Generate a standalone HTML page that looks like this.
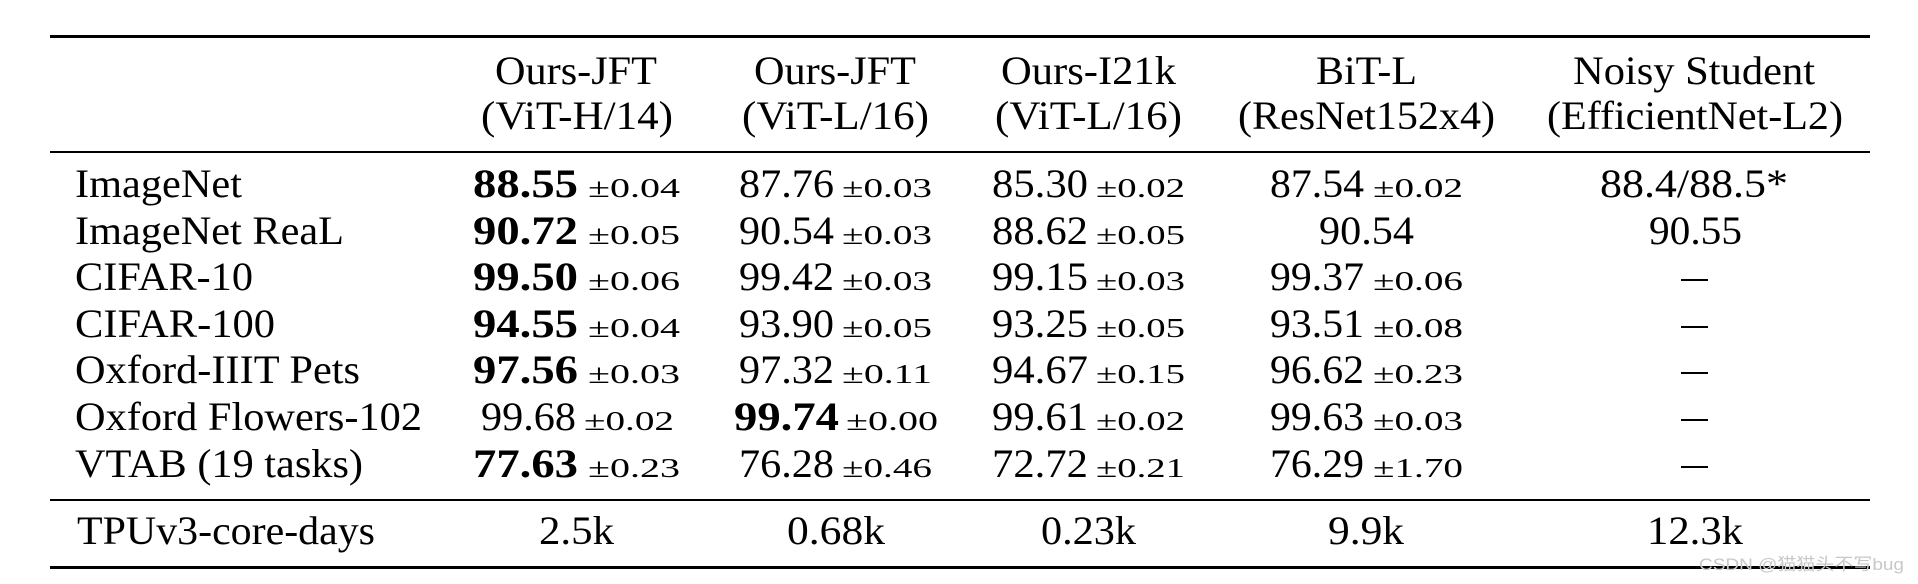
<!DOCTYPE html>
<html><head><meta charset="utf-8"><style>
html,body{margin:0;padding:0;background:#fff;}
svg{display:block;}
text{font-family:"Liberation Serif",serif;fill:#000;}
.b{font-size:40px;}
.h{font-size:40px;}
.s{font-size:27px;}
.bb{font-size:40px;font-weight:bold;}
.w{font-family:"Liberation Sans","Noto Sans CJK SC",sans-serif;font-size:17px;fill:#c8c8c8;}
</style></head><body>
<svg width="1918" height="584" viewBox="0 0 1918 584" xmlns="http://www.w3.org/2000/svg">
<rect width="1918" height="584" fill="#fff"/>
<rect x="50" y="35" width="1820" height="3" fill="#000"/>
<rect x="50" y="151" width="1820" height="2" fill="#000"/>
<rect x="50" y="499" width="1820" height="2" fill="#000"/>
<rect x="50" y="566" width="1820" height="3" fill="#000"/>

<text class="h" x="495" y="84" textLength="162" lengthAdjust="spacingAndGlyphs">Ours-JFT</text>
<text class="h" x="481" y="129" textLength="192" lengthAdjust="spacingAndGlyphs">(ViT-H/14)</text>
<text class="h" x="754" y="84" textLength="162" lengthAdjust="spacingAndGlyphs">Ours-JFT</text>
<text class="h" x="742" y="129" textLength="187" lengthAdjust="spacingAndGlyphs">(ViT-L/16)</text>
<text class="h" x="1001" y="84" textLength="175" lengthAdjust="spacingAndGlyphs">Ours-I21k</text>
<text class="h" x="995" y="129" textLength="187" lengthAdjust="spacingAndGlyphs">(ViT-L/16)</text>
<text class="h" x="1316" y="84" textLength="101" lengthAdjust="spacingAndGlyphs">BiT-L</text>
<text class="h" x="1238" y="129" textLength="257" lengthAdjust="spacingAndGlyphs">(ResNet152x4)</text>
<text class="h" x="1573" y="84" textLength="242" lengthAdjust="spacingAndGlyphs">Noisy Student</text>
<text class="h" x="1547" y="129" textLength="296" lengthAdjust="spacingAndGlyphs">(EfficientNet-L2)</text>

<text class="b" x="75" y="197" textLength="167" lengthAdjust="spacingAndGlyphs">ImageNet</text>
<text class="b" x="75" y="244" textLength="269" lengthAdjust="spacingAndGlyphs">ImageNet ReaL</text>
<text class="b" x="75" y="290" textLength="178" lengthAdjust="spacingAndGlyphs">CIFAR-10</text>
<text class="b" x="75" y="337" textLength="200" lengthAdjust="spacingAndGlyphs">CIFAR-100</text>
<text class="b" x="75" y="383" textLength="285" lengthAdjust="spacingAndGlyphs">Oxford-IIIT Pets</text>
<text class="b" x="75" y="430" textLength="347" lengthAdjust="spacingAndGlyphs">Oxford Flowers-102</text>
<text class="b" x="75" y="477" textLength="288" lengthAdjust="spacingAndGlyphs">VTAB (19 tasks)</text>
<text class="b" x="77" y="544" textLength="298" lengthAdjust="spacingAndGlyphs">TPUv3-core-days</text>

<g>
<text class="bb" x="473" y="197" textLength="105" lengthAdjust="spacingAndGlyphs">88.55</text><text class="s" x="588" y="197" textLength="92" lengthAdjust="spacingAndGlyphs">±0.04</text>
<text class="bb" x="473" y="244" textLength="105" lengthAdjust="spacingAndGlyphs">90.72</text><text class="s" x="588" y="244" textLength="92" lengthAdjust="spacingAndGlyphs">±0.05</text>
<text class="bb" x="473" y="290" textLength="105" lengthAdjust="spacingAndGlyphs">99.50</text><text class="s" x="588" y="290" textLength="92" lengthAdjust="spacingAndGlyphs">±0.06</text>
<text class="bb" x="473" y="337" textLength="105" lengthAdjust="spacingAndGlyphs">94.55</text><text class="s" x="588" y="337" textLength="92" lengthAdjust="spacingAndGlyphs">±0.04</text>
<text class="bb" x="473" y="383" textLength="105" lengthAdjust="spacingAndGlyphs">97.56</text><text class="s" x="588" y="383" textLength="92" lengthAdjust="spacingAndGlyphs">±0.03</text>
<text class="b" x="481" y="430" textLength="95" lengthAdjust="spacingAndGlyphs">99.68</text><text class="s" x="584" y="430" textLength="90" lengthAdjust="spacingAndGlyphs">±0.02</text>
<text class="bb" x="473" y="477" textLength="105" lengthAdjust="spacingAndGlyphs">77.63</text><text class="s" x="588" y="477" textLength="92" lengthAdjust="spacingAndGlyphs">±0.23</text>
<text class="b" x="539" y="544" textLength="75" lengthAdjust="spacingAndGlyphs">2.5k</text>
</g>
<g>
<text class="b" x="739" y="197" textLength="95" lengthAdjust="spacingAndGlyphs">87.76</text><text class="s" x="842" y="197" textLength="90" lengthAdjust="spacingAndGlyphs">±0.03</text>
<text class="b" x="739" y="244" textLength="95" lengthAdjust="spacingAndGlyphs">90.54</text><text class="s" x="842" y="244" textLength="90" lengthAdjust="spacingAndGlyphs">±0.03</text>
<text class="b" x="739" y="290" textLength="95" lengthAdjust="spacingAndGlyphs">99.42</text><text class="s" x="842" y="290" textLength="90" lengthAdjust="spacingAndGlyphs">±0.03</text>
<text class="b" x="739" y="337" textLength="95" lengthAdjust="spacingAndGlyphs">93.90</text><text class="s" x="842" y="337" textLength="90" lengthAdjust="spacingAndGlyphs">±0.05</text>
<text class="b" x="739" y="383" textLength="95" lengthAdjust="spacingAndGlyphs">97.32</text><text class="s" x="842" y="383" textLength="90" lengthAdjust="spacingAndGlyphs">±0.11</text>
<text class="bb" x="734" y="430" textLength="105" lengthAdjust="spacingAndGlyphs">99.74</text><text class="s" x="846" y="430" textLength="92" lengthAdjust="spacingAndGlyphs">±0.00</text>
<text class="b" x="739" y="477" textLength="95" lengthAdjust="spacingAndGlyphs">76.28</text><text class="s" x="842" y="477" textLength="90" lengthAdjust="spacingAndGlyphs">±0.46</text>
<text class="b" x="787" y="544" textLength="98" lengthAdjust="spacingAndGlyphs">0.68k</text>
</g>
<g>
<text class="b" x="992" y="197" textLength="96" lengthAdjust="spacingAndGlyphs">85.30</text><text class="s" x="1096" y="197" textLength="89" lengthAdjust="spacingAndGlyphs">±0.02</text>
<text class="b" x="992" y="244" textLength="96" lengthAdjust="spacingAndGlyphs">88.62</text><text class="s" x="1096" y="244" textLength="89" lengthAdjust="spacingAndGlyphs">±0.05</text>
<text class="b" x="992" y="290" textLength="96" lengthAdjust="spacingAndGlyphs">99.15</text><text class="s" x="1096" y="290" textLength="89" lengthAdjust="spacingAndGlyphs">±0.03</text>
<text class="b" x="992" y="337" textLength="96" lengthAdjust="spacingAndGlyphs">93.25</text><text class="s" x="1096" y="337" textLength="89" lengthAdjust="spacingAndGlyphs">±0.05</text>
<text class="b" x="992" y="383" textLength="96" lengthAdjust="spacingAndGlyphs">94.67</text><text class="s" x="1096" y="383" textLength="89" lengthAdjust="spacingAndGlyphs">±0.15</text>
<text class="b" x="992" y="430" textLength="96" lengthAdjust="spacingAndGlyphs">99.61</text><text class="s" x="1096" y="430" textLength="89" lengthAdjust="spacingAndGlyphs">±0.02</text>
<text class="b" x="992" y="477" textLength="96" lengthAdjust="spacingAndGlyphs">72.72</text><text class="s" x="1096" y="477" textLength="89" lengthAdjust="spacingAndGlyphs">±0.21</text>
<text class="b" x="1041" y="544" textLength="95" lengthAdjust="spacingAndGlyphs">0.23k</text>
</g>
<g>
<text class="b" x="1270" y="197" textLength="94" lengthAdjust="spacingAndGlyphs">87.54</text><text class="s" x="1373" y="197" textLength="90" lengthAdjust="spacingAndGlyphs">±0.02</text>
<text class="b" x="1319" y="244" textLength="95" lengthAdjust="spacingAndGlyphs">90.54</text>
<text class="b" x="1270" y="290" textLength="94" lengthAdjust="spacingAndGlyphs">99.37</text><text class="s" x="1373" y="290" textLength="90" lengthAdjust="spacingAndGlyphs">±0.06</text>
<text class="b" x="1270" y="337" textLength="94" lengthAdjust="spacingAndGlyphs">93.51</text><text class="s" x="1373" y="337" textLength="90" lengthAdjust="spacingAndGlyphs">±0.08</text>
<text class="b" x="1270" y="383" textLength="94" lengthAdjust="spacingAndGlyphs">96.62</text><text class="s" x="1373" y="383" textLength="90" lengthAdjust="spacingAndGlyphs">±0.23</text>
<text class="b" x="1270" y="430" textLength="94" lengthAdjust="spacingAndGlyphs">99.63</text><text class="s" x="1373" y="430" textLength="90" lengthAdjust="spacingAndGlyphs">±0.03</text>
<text class="b" x="1270" y="477" textLength="94" lengthAdjust="spacingAndGlyphs">76.29</text><text class="s" x="1373" y="477" textLength="90" lengthAdjust="spacingAndGlyphs">±1.70</text>
<text class="b" x="1328" y="544" textLength="76" lengthAdjust="spacingAndGlyphs">9.9k</text>
</g>
<g>
<text class="b" x="1600" y="197" textLength="188" lengthAdjust="spacingAndGlyphs">88.4/88.5*</text>
<text class="b" x="1649" y="244" textLength="93" lengthAdjust="spacingAndGlyphs">90.55</text>
<rect x="1681" y="279" width="27" height="2" fill="#000"/>
<rect x="1681" y="326" width="27" height="2" fill="#000"/>
<rect x="1681" y="372" width="27" height="2" fill="#000"/>
<rect x="1681" y="419" width="27" height="2" fill="#000"/>
<rect x="1681" y="466" width="27" height="2" fill="#000"/>
<text class="b" x="1647" y="544" textLength="96" lengthAdjust="spacingAndGlyphs">12.3k</text>
</g>
<text class="w" x="1699" y="570" textLength="205" lengthAdjust="spacingAndGlyphs">CSDN @猫猫头不写bug</text>
</svg>
</body></html>
